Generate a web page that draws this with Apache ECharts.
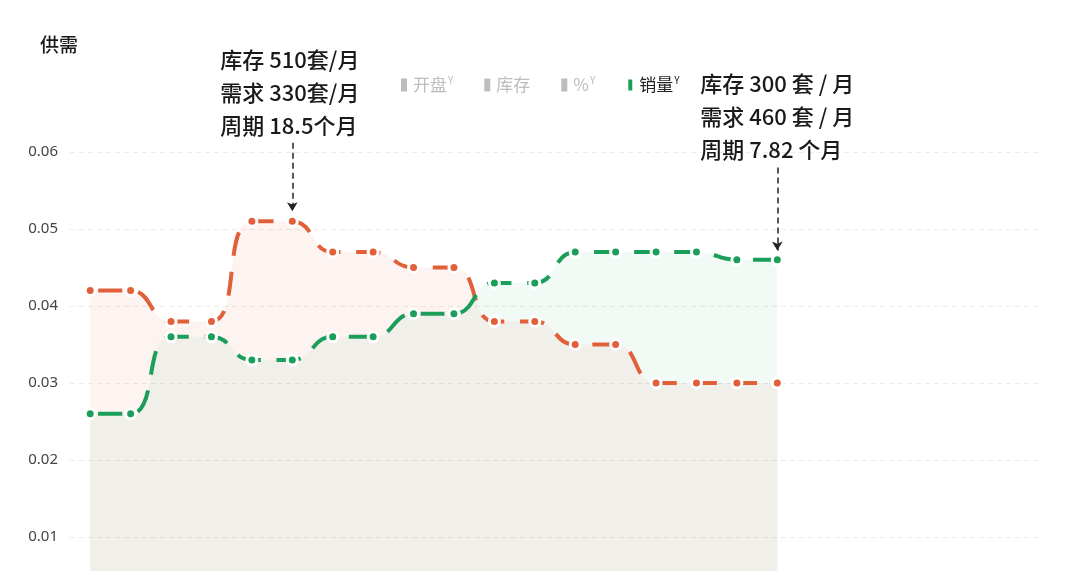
<!DOCTYPE html>
<html>
<head>
<meta charset="utf-8">
<script src="https://cdn.jsdelivr.net/npm/echarts@6/dist/echarts.min.js"></script>
<style>
  html, body { margin: 0; padding: 0; background: #fff; }
  #chart { width: 1080px; height: 571px; }
</style>
</head>
<body>
<div id="chart"></div>
<script>
// x categories (only the first 18 carry data)
const months = ['1', '2', '3', '4', '5', '6', '7', '8', '9', '10', '11', '12',
                '13', '14', '15', '16', '17', '18', '19', '20', '21', '22', '23', '24'];
// supply (orange) and sales (green)
const supply = [0.042, 0.042, 0.038, 0.038, 0.051, 0.051, 0.047, 0.047, 0.045, 0.045,
                0.038, 0.038, 0.035, 0.035, 0.030, 0.030, 0.030, 0.030];
const sales = [0.026, 0.026, 0.036, 0.036, 0.033, 0.033, 0.036, 0.036, 0.039, 0.039,
               0.043, 0.043, 0.047, 0.047, 0.047, 0.047, 0.046, 0.046];
const legendNames = ['开盘', '库存', '%', '销量'];
const legendSup = [true, false, true, true];
// top tick (0.07) only gives room for the notes, its line and label are hidden
const yTicks = [0, 0.01, 0.02, 0.03, 0.04, 0.05, 0.06, 0.07];

// annotations: [category index, top value, arrow tip value, text lines]
const noteLeft = [5, 0.0612, 0.0523, ['库存 510套/月', '需求 330套/月', '周期 18.5个月']];
const noteRight = [17, 0.0580, 0.0472, ['库存 300 套 / 月', '需求 460 套 / 月', '周期 7.82 个月']];

const ORANGE = '#e1603a';
const GREEN = '#1b9e5a';

function noteLine(n, w) {
    return {
        silent: true,
        animation: false,
        symbol: ['none', 'arrow'],
        symbolSize: [8, 9],
        lineStyle: {color: '#222', type: [6, 4], width: 1.5},
        label: {
            show: true,
            position: 'start',
            distance: 1,
            formatter: n[3].map(s => '{a|' + s + '}').join('\n'),
            rich: {
                a: {
                    width: w,
                    align: 'left',
                    color: '#1a1a1a',
                    fontSize: 22,
                    lineHeight: 33,
                    fontWeight: 500,
                    fontFamily: 'Noto Sans CJK SC'
                }
            }
        },
        data: [[{coord: [n[0], n[1]]}, {coord: [n[0], n[2]]}]]
    };
}

function lineSeries(name, data, color, area, note, w) {
    return {
        name: name,
        type: 'line',
        data: data,
        smooth: true,
        symbol: 'circle',
        symbolSize: 10,
        showAllSymbol: true,
        lineStyle: {color: color, width: 4, type: [24, 16], dashOffset: 32},
        itemStyle: {color: color, borderColor: '#fff', borderWidth: 3},
        areaStyle: {color: area, origin: 'start'},
        markLine: noteLine(note, w)
    };
}

const legendSelected = {};
legendNames.forEach((n, i) => { legendSelected[n] = i === 3; });

const dummies = legendNames.slice(0, 3).map(n => ({name: n, type: 'line', data: []}));

echarts.init(document.getElementById('chart')).setOption({
    animation: false,
    title: {
        text: '供需',
        left: 35,
        top: 30,
        textStyle: {fontSize: 19, fontWeight: 500, color: '#1a1a1a', fontFamily: 'Noto Sans CJK SC'}
    },
    legend: {
        data: legendNames,
        selected: legendSelected,
        left: 396,
        top: 70,
        icon: 'rect',
        itemWidth: 6,
        itemHeight: 13,
        itemGap: 31,
        inactiveColor: '#bdbdbd',
        formatter: name => name + (legendSup[legendNames.indexOf(name)] ? '{s|Y}' : ''),
        textStyle: {
            fontSize: 17,
            color: '#222',
            fontFamily: 'Noto Sans CJK SC',
            padding: [0, 0, 0, 1],
            rich: {s: {fontSize: 10, verticalAlign: 'top', padding: [0, 0, 10, 1]}}
        }
    },
    grid: {left: 70, right: 40, top: 75, height: 539, outerBoundsMode: 'none'},
    xAxis: {
        type: 'category',
        data: months,
        boundaryGap: true,
        axisLine: {show: false},
        axisTick: {show: false},
        axisLabel: {show: false}
    },
    yAxis: {
        type: 'value',
        min: yTicks[0],
        max: yTicks[yTicks.length - 1],
        interval: 0.01,
        axisLine: {show: false},
        axisTick: {show: false},
        axisLabel: {
            margin: 12,
            fontSize: 15,
            color: '#444',
            fontFamily: 'Noto Sans',
            showMaxLabel: false,
            formatter: v => v.toFixed(2)
        },
        splitLine: {showMaxLine: false, lineStyle: {color: '#ececec', type: [5, 4]}}
    },
    series: dummies.concat([
        lineSeries('供应', supply, ORANGE, 'rgba(232, 90, 55, 0.1)', noteLeft, 144),
        lineSeries('销量', sales, GREEN, 'rgba(30, 165, 105, 0.085)', noteRight, 154)
    ])
});
</script>
</body>
</html>
